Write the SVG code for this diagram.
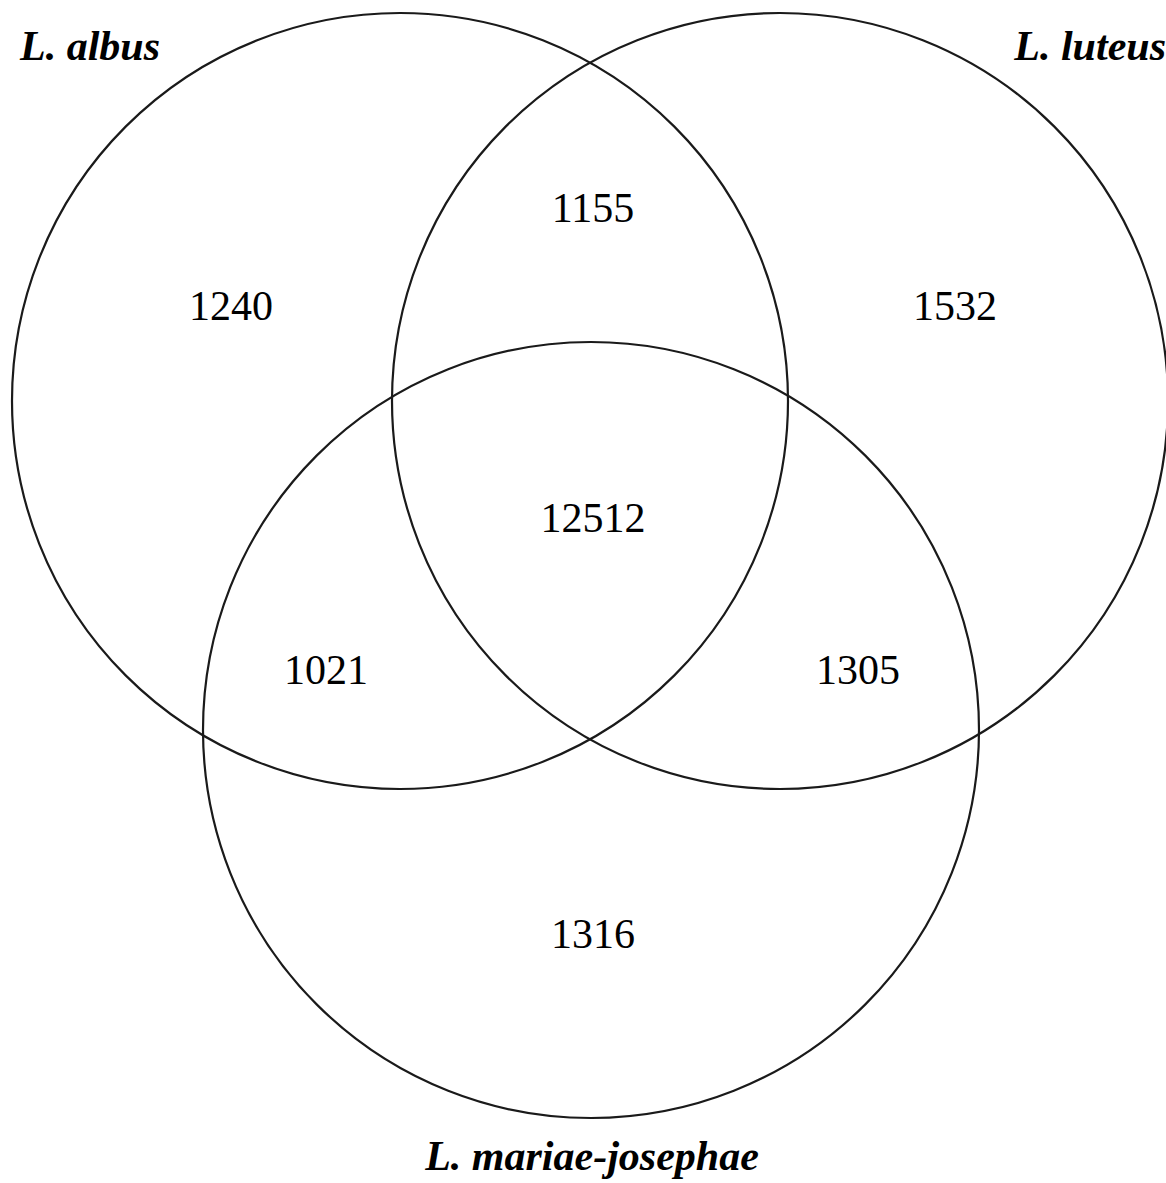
<svg xmlns="http://www.w3.org/2000/svg" width="1166" height="1183" viewBox="0 0 1166 1183">
<style>
.c{fill:none;stroke:#1a1a1a;stroke-width:2.2}
.n{font-family:"Liberation Serif","Times New Roman",serif;font-size:42px;fill:#000;text-anchor:middle}
.l{font-family:"Liberation Serif","Times New Roman",serif;font-size:42px;font-style:italic;font-weight:bold;fill:#000}
</style>
<rect width="1166" height="1183" fill="#fff"/>
<g id="circle-albus"><circle class="c" cx="400" cy="401" r="388"/></g>
<g id="circle-luteus"><circle class="c" cx="780" cy="401" r="388"/></g>
<g id="circle-mariae"><circle class="c" cx="591" cy="730" r="388"/></g>
<g id="labels">
<text class="l" x="20" y="60">L. albus</text>
<text class="l" x="1166" y="60" text-anchor="end">L. luteus</text>
<text class="l" x="592" y="1170" text-anchor="middle">L. mariae-josephae</text>
</g>
<g id="counts">
<text class="n" x="231" y="320">1240</text>
<text class="n" x="593" y="222">1155</text>
<text class="n" x="955" y="320">1532</text>
<text class="n" x="593" y="532">12512</text>
<text class="n" x="326" y="684">1021</text>
<text class="n" x="858" y="684">1305</text>
<text class="n" x="593" y="948">1316</text>
</g>
</svg>
